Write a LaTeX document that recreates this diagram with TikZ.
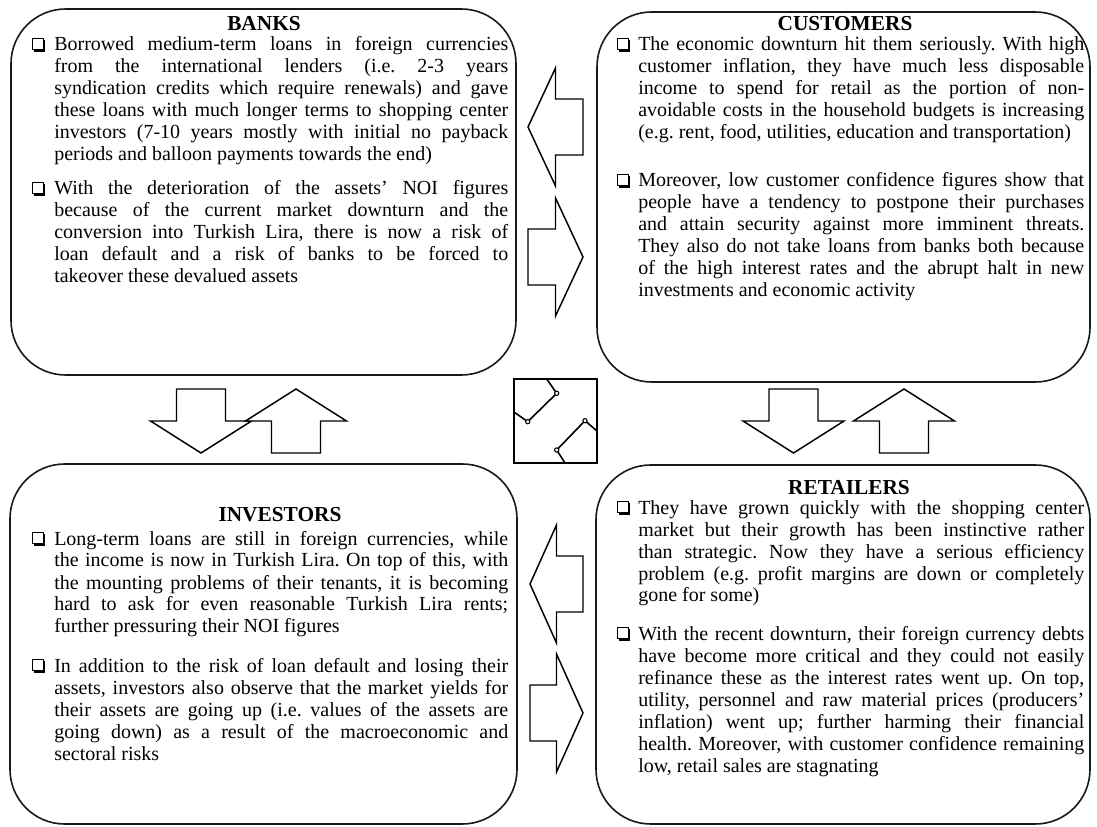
\documentclass[tikz,border=0pt]{standalone}
\usepackage{fontspec}
\setmainfont{Liberation Serif}
\usetikzlibrary{fit}
\hbadness=10000
\hfuzz=30pt

% block arrow lying horizontally: tail x, tip x, centre y
\newcommand\blockH[3]{%
  \draw[blockarrow] ({#1},{#3-28}) -- ({(#1+#2)/2},{#3-28}) -- ({(#1+#2)/2},{#3-59})
    -- ({#2},{#3}) -- ({(#1+#2)/2},{#3+59}) -- ({(#1+#2)/2},{#3+28}) -- ({#1},{#3+28}) -- cycle;}
% block arrow standing vertically: centre x, tail y, tip y
\newcommand\blockV[3]{%
  \draw[blockarrow] ({#1-24.5},{#2}) -- ({#1-24.5},{(#2+#3)/2}) -- ({#1-50.5},{(#2+#3)/2})
    -- ({#1},{#3}) -- ({#1+50.5},{(#2+#3)/2}) -- ({#1+24.5},{(#2+#3)/2}) -- ({#1+24.5},{#2}) -- cycle;}
% shadowed square bullet: left x, baseline y
\newcommand\sqmark[2]{%
  \draw[line width=0.7pt] ({#1},{#2-12.5}) rectangle ({#1+11},{#2-1.5});
  \draw[line width=1.5pt] ({#1+1.5},{#2-0.1}) -- ({#1+12.4},{#2-0.1}) -- ({#1+12.4},{#2-11});}

\begin{document}
\begin{tikzpicture}[x=0.75pt,y=-0.75pt,
  panel/.style={draw=black!90, line width=1.2pt, rounded corners=41pt, inner sep=0pt},
  blockarrow/.style={draw=black, line width=1.1pt, line join=miter, fill=white},
  iconline/.style={draw=black, line width=1.2pt},
  hinge/.style={draw=black, fill=white, line width=0.8pt},
  heading/.style={font=\fontsize{16}{18}\selectfont\bfseries, inner sep=0pt, anchor=base},
  para/.style={font=\fontsize{15}{16.5}\selectfont, align=justify, inner sep=0pt, anchor=base west,
    execute at begin node={\tolerance=10000\hyphenpenalty=10000\exhyphenpenalty=10000\frenchspacing
      \spaceskip=3.75pt plus 4pt minus 1.6pt\relax}},
  lpara/.style={para, text width=340.5pt},
  rpara/.style={para, text width=334.5pt}]
\useasboundingbox (0,0) rectangle (1097,827);

% the four panels
\node[panel, fit={(11,9) (516,375)}] (banks) {};
\node[panel, fit={(597,12) (1090,382)}] (customers) {};
\node[panel, fit={(10,464) (517,824)}] (investors) {};
\node[panel, fit={(596,465) (1090,824)}] (retailers) {};

% BANKS
\node[heading] (banksT) at (264,31) {BANKS};
\sqmark{32}{51}
\node[lpara] (banksA) at (54,51) {Borrowed medium-term loans in foreign currencies\linebreak
from the international lenders (i.e. 2-3 years\linebreak
syndication credits which require renewals) and gave\linebreak
these loans with much longer terms to shopping center\linebreak
investors (7-10 years mostly with initial no payback\linebreak
periods and balloon payments towards the end)};
\sqmark{32}{195}
\node[lpara] (banksB) at (54,195) {With the deterioration of the assets’ NOI figures\linebreak
because of the current market downturn and the\linebreak
conversion into Turkish Lira, there is now a risk of\linebreak
loan default and a risk of banks to be forced to\linebreak
takeover these devalued assets};

% CUSTOMERS
\node[heading] (customersT) at (845,31) {CUSTOMERS};
\sqmark{617}{51}
\node[rpara] (customersA) at (638,51) {The economic downturn hit them seriously. With high\linebreak
customer inflation, they have much less disposable\linebreak
income to spend for retail as the portion of non-\linebreak
avoidable costs in the household budgets is increasing\linebreak
(e.g. rent, food, utilities, education and transportation)};
\sqmark{617}{187}
\node[rpara] (customersB) at (638,187) {Moreover, low customer confidence figures show that\linebreak
people have a tendency to postpone their purchases\linebreak
and attain security against more imminent threats.\linebreak
They also do not take loans from banks both because\linebreak
of the high interest rates and the abrupt halt in new\linebreak
investments and economic activity};

% INVESTORS
\node[heading] (investorsT) at (280,522) {INVESTORS};
\sqmark{32}{545}
\node[lpara] (investorsA) at (54,545) {Long-term loans are still in foreign currencies, while\linebreak
the income is now in Turkish Lira. On top of this, with\linebreak
the mounting problems of their tenants, it is becoming\linebreak
hard to ask for even reasonable Turkish Lira rents;\linebreak
further pressuring their NOI figures};
\sqmark{32}{672}
\node[lpara] (investorsB) at (54,672) {In addition to the risk of loan default and losing their\linebreak
assets, investors also observe that the market yields for\linebreak
their assets are going up (i.e. values of the assets are\linebreak
going down) as a result of the macroeconomic and\linebreak
sectoral risks};

% RETAILERS
\node[heading] (retailersT) at (849,494) {RETAILERS};
\sqmark{617}{514}
\node[rpara] (retailersA) at (638,514) {They have grown quickly with the shopping center\linebreak
market but their growth has been instinctive rather\linebreak
than strategic. Now they have a serious efficiency\linebreak
problem (e.g. profit margins are down or completely\linebreak
gone for some)};
\sqmark{617}{640}
\node[rpara] (retailersB) at (638,640) {With the recent downturn, their foreign currency debts\linebreak
have become more critical and they could not easily\linebreak
refinance these as the interest rates went up. On top,\linebreak
utility, personnel and raw material prices (producers’\linebreak
inflation) went up; further harming their financial\linebreak
health. Moreover, with customer confidence remaining\linebreak
low, retail sales are stagnating};

% exchange arrows between the panels
\blockH{583}{528}{127}
\blockH{528}{583}{257}
\blockH{583}{530}{584}
\blockH{530}{583}{713}
\blockV{201}{389}{453}
\blockV{296}{453}{389}
\blockV{793.5}{389}{453}
\blockV{904}{453}{389}

% central exchange symbol
\node[draw=black, line width=1.2pt, fit={(514,379) (597,463)}, inner sep=0pt] (icon) {};
\draw[iconline] (546.7,379) -- (556.7,393.3) -- (527.7,421.7) -- (515,412.7);
\draw[iconline] (597,431) -- (585,420.7) -- (556.7,450) -- (565,463);
\foreach \p in {(556.7,393.3),(527.7,421.7),(585,420.7),(556.7,450)}
  \draw[hinge] \p circle[radius=1.6pt];
\end{tikzpicture}
\end{document}
